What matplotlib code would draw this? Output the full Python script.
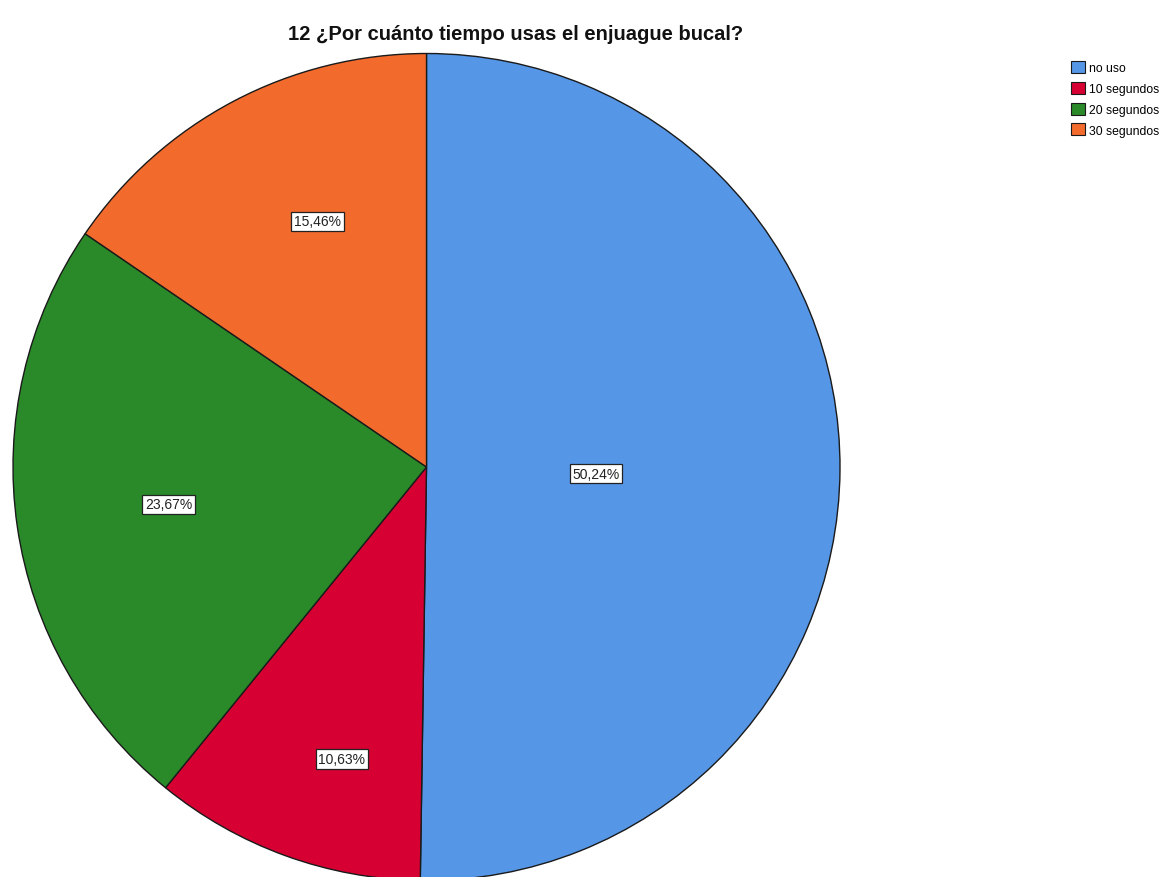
import numpy as np
import matplotlib
matplotlib.use("Agg")
import matplotlib.pyplot as plt
from matplotlib.patches import Patch

title = "12 ¿Por cuánto tiempo usas el enjuague bucal?"
categories = ["no uso", "10 segundos", "20 segundos", "30 segundos"]
percentages = [50.24, 10.63, 23.67, 15.46]
colors = ["#5596E6", "#D60032", "#2A8A2A", "#F26B2D"]
# label placement inside each wedge: fraction along the arc, radial distance
label_frac = [0.49, 0.60, 0.50, 0.43]
label_dist = [0.41, 0.735, 0.63, 0.65]

W, H = 1161, 878
fig = plt.figure(figsize=(W / 100, H / 100), dpi=100)
fig.patch.set_facecolor("white")

cx, cy, r = 426.5, 468, 413.5
ax = fig.add_axes([(cx - r) / W, (H - cy - r) / H, 2 * r / W, 2 * r / H])
wedges, _ = ax.pie(percentages, colors=colors, startangle=90, counterclock=False,
                   wedgeprops=dict(edgecolor="#1a1a1a", linewidth=1.0))
ax.set_xlim(-1, 1)
ax.set_ylim(-1, 1)
ax.set_aspect("auto")
ax.axis("off")

for w, p, f, d in zip(wedges, percentages, label_frac, label_dist):
    ang = np.deg2rad(w.theta1 + f * (w.theta2 - w.theta1))
    ax.text(d * np.cos(ang), d * np.sin(ang), f"{p:.2f}%".replace(".", ","),
            ha="center", va="center", fontsize=10, family="Liberation Sans",
            color="#222222",
            bbox=dict(boxstyle="square,pad=0.2", facecolor="white",
                      edgecolor="#222222", linewidth=0.9))

fig.text(516 / W, 1 - 34 / H, title, ha="center", va="center", fontsize=14.5,
         fontweight="bold", family="Liberation Sans", color="#111111")

handles = [Patch(facecolor=c, edgecolor="#1a1a1a", linewidth=0.8) for c in colors]
fig.legend(handles, categories, loc="upper right",
           bbox_to_anchor=(1159 / W, 1 - 62 / H), frameon=False,
           prop=dict(family="Liberation Sans", size=8.8),
           handlelength=1.15, handleheight=1.15, handletextpad=0.3,
           labelspacing=0.62, borderpad=0, borderaxespad=0)

fig.savefig("out.png", dpi=100, facecolor="white")
